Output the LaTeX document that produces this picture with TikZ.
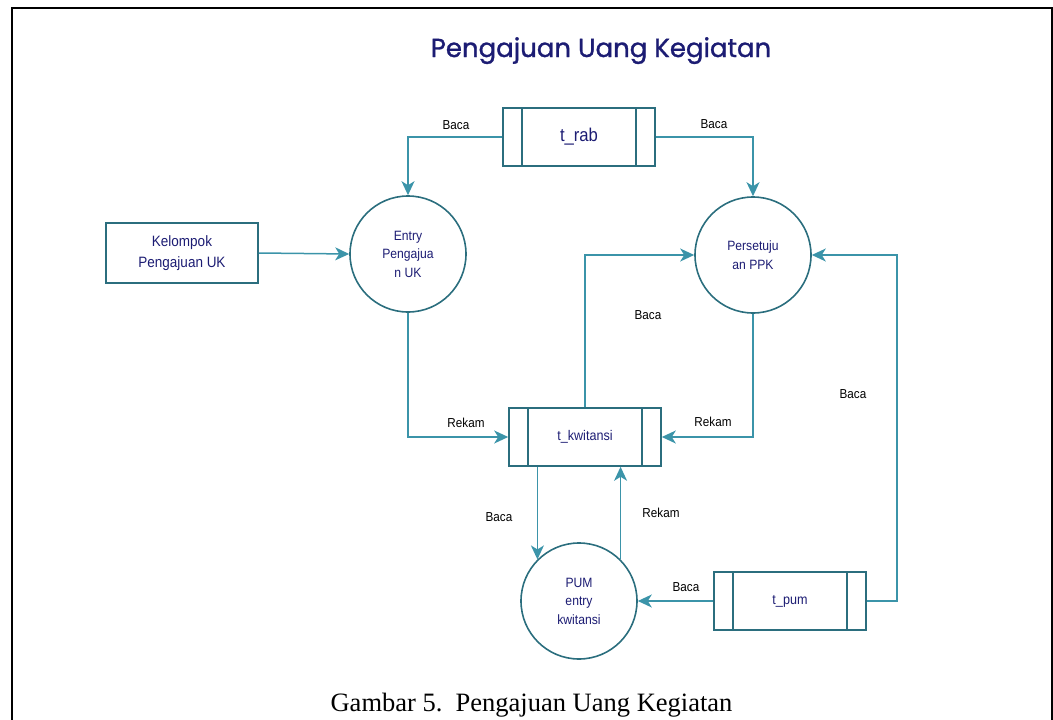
\documentclass[tikz,border=0pt]{standalone}
\usepackage{fontspec}
\setmainfont{Liberation Serif}
\setsansfont{Liberation Sans}
\newfontfamily\titlefont[FakeBold=1.2]{Poppins}
\newfontfamily\narrowsf[FakeStretch=0.9]{Liberation Sans}
\usetikzlibrary{arrows.meta,positioning}

\definecolor{tealdark}{HTML}{2B6E7E}
\definecolor{teallight}{HTML}{3B94A9}
\definecolor{navytext}{HTML}{1C1C73}

\begin{document}
\begin{tikzpicture}[x=1pt, y=-1pt, >={Stealth[length=14pt,width=13pt,inset=4pt]},
  proc/.style={circle, draw=tealdark, line width=1.6pt, minimum size=116pt, inner sep=0pt,
    align=center, text=navytext, font=\narrowsf\fontsize{13.5}{18.5}\selectfont},
  store/.style={rectangle, draw=tealdark, line width=1.6pt, minimum width=152pt,
    minimum height=58pt, text=navytext, font=\narrowsf\fontsize{14}{16}\selectfont},
  entity/.style={rectangle, draw=tealdark, line width=1.6pt, minimum width=152pt,
    minimum height=60pt, align=center, text=navytext, font=\narrowsf\fontsize{15}{21}\selectfont},
  flow/.style={->, draw=teallight, line width=1.5pt},
  lbl/.style={font=\narrowsf\fontsize{13}{14}\selectfont}]

  \useasboundingbox (0,0) rectangle (1053,720);

  % frame
  \draw[line width=2pt] (11.5,730) -- (11.5,7.5) -- (1051.5,7.5) -- (1051.5,730);

  \node[anchor=base, text=navytext, font=\titlefont\fontsize{26}{30}\selectfont] (title) at (601,57) {Pengajuan Uang Kegiatan};

  % processes
  \node[proc] (entry) at (408,254) {Entry\\Pengajua\\n UK};
  \node[proc] (ppk) at (753,255) {Persetuju\\an PPK};
  \node[proc] (pum) at (579,601) {PUM\\entry\\kwitansi};

  % data stores
  \node[store, font=\narrowsf\fontsize{18.5}{20}\selectfont] (trab) at (579,137) {t\_rab};
  \node[store] (kw) at (585,437) {t\_kwitansi};
  \node[store] (tpum) at (790,601) {t\_pum};
  \foreach \s in {trab,kw,tpum}
    \draw[tealdark, line width=1.6pt]
      ([xshift=20pt]\s.north west) -- ([xshift=20pt]\s.south west)
      ([xshift=-20pt]\s.north east) -- ([xshift=-20pt]\s.south east);

  % external entity
  \node[entity] (kel) at (182,253) {Kelompok\\Pengajuan UK};

  % flows
  \coordinate (bend) at (897,601);
  \draw[flow] (kel.east) -- (entry.west);
  \draw[flow] (trab.west) -| (entry.north);
  \draw[flow] (trab.east) -| (ppk.north);
  \draw[flow] (entry.south) |- (kw.west);
  \draw[flow] (ppk.south) |- (kw.east);
  \draw[flow] (kw.north) |- (ppk.west);
  \draw[flow] (kw.south -| pum.135) -- (pum.135);
  \draw[flow] (pum.45) -- (pum.45 |- kw.south);
  \draw[flow] (tpum.west) -- (pum.east);
  \draw[flow] (tpum.east) -- (bend) |- (ppk.east);

  % flow labels
  \node[lbl] (l1) at (456,125) {Baca};
  \node[lbl] (l2) at (714,124) {Baca};
  \node[lbl] (l3) at (648,315) {Baca};
  \node[lbl] (l4) at (466,423) {Rekam};
  \node[lbl] (l5) at (713,422) {Rekam};
  \node[lbl] (l6) at (499,517) {Baca};
  \node[lbl] (l7) at (661,513) {Rekam};
  \node[lbl] (l8) at (686,587) {Baca};
  \node[lbl] (l9) at (853,394) {Baca};

  \node[anchor=base, font=\fontsize{26.5}{30}\selectfont] (caption) at (531.5,711) {Gambar 5.\ \ Pengajuan Uang Kegiatan};

\end{tikzpicture}
\end{document}
